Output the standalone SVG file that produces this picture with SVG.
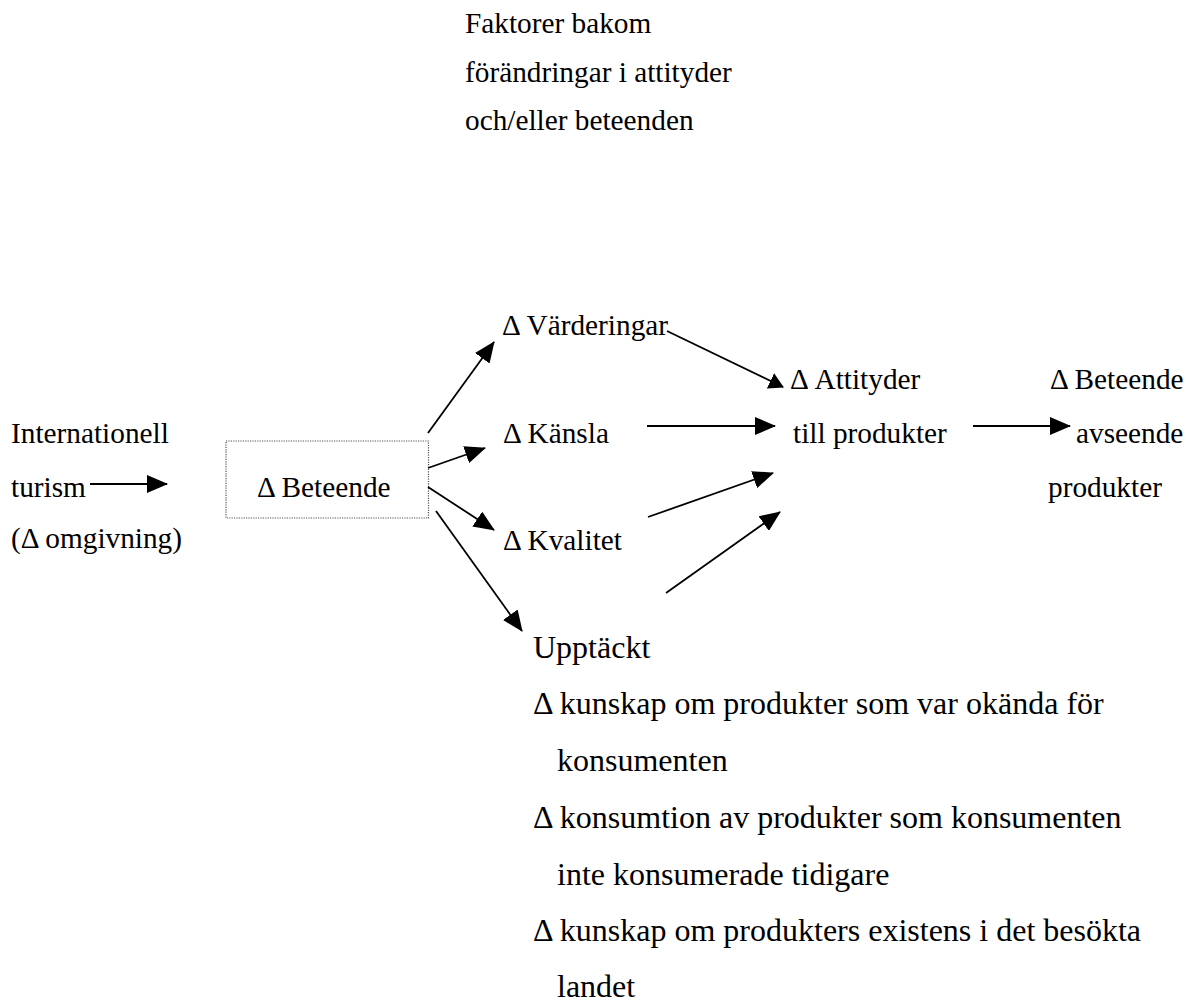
<svg xmlns="http://www.w3.org/2000/svg" width="1192" height="1002" viewBox="0 0 1192 1002">
<style>
text{fill:#000}
.m{font-size:29.3px}
.b{font-size:32px}
.c{stroke:#000;stroke-width:1.8;fill:none;marker-end:url(#ah)}
.h{stroke-width:2.2}
.s{marker-end:url(#ahs)}
.box{fill:none;stroke:#555;stroke-width:1.2;stroke-dasharray:1.2 1.2}
</style>
<defs>
<marker id="ah" viewBox="0 0 21 18" refX="20" refY="9" markerWidth="21" markerHeight="18" markerUnits="userSpaceOnUse" orient="auto">
<path d="M0,0 L21,9 L0,18 Z" fill="#000"/>
</marker>
<marker id="ahs" viewBox="0 0 15 17" refX="14" refY="8.5" markerWidth="15" markerHeight="17" markerUnits="userSpaceOnUse" orient="auto">
<path d="M0,0 L15,8.5 L0,17 Z" fill="#000"/>
</marker>
</defs>
<g font-family="Liberation Serif, Times New Roman, Tinos, DejaVu Serif, serif">
<g id="title">
<text class="m" x="465" y="33">Faktorer bakom</text>
<text class="m" x="465" y="82">förändringar i attityder</text>
<text class="m" x="465" y="130">och/eller beteenden</text>
</g>
<g id="n-turism">
<text class="m" x="11" y="443">Internationell</text>
<text class="m" x="11" y="497">turism</text>
<text class="m" x="11" y="548">(Δ omgivning)</text>
</g>
<g id="n-beteende">
<rect class="box" x="226" y="441" width="202.5" height="77"/>
<text class="m" x="257" y="497">Δ Beteende</text>
</g>
<g id="n-varderingar"><text class="m" x="502" y="335">Δ Värderingar</text></g>
<g id="n-kansla"><text class="m" x="503" y="443">Δ Känsla</text></g>
<g id="n-kvalitet"><text class="m" x="503" y="550">Δ Kvalitet</text></g>
<g id="n-attityder">
<text class="m" x="790" y="389">Δ Attityder</text>
<text class="m" x="793" y="443">till produkter</text>
</g>
<g id="n-beteende2">
<text class="m" x="1050" y="389">Δ Beteende</text>
<text class="m" x="1076" y="443">avseende</text>
<text class="m" x="1048" y="497">produkter</text>
</g>
<g id="n-upptackt">
<text class="b" x="533" y="658">Upptäckt</text>
<text class="b" x="533" y="714">Δ kunskap om produkter som var okända för</text>
<text class="b" x="557" y="771">konsumenten</text>
<text class="b" x="533" y="828">Δ konsumtion av produkter som konsumenten</text>
<text class="b" x="557" y="885">inte konsumerade tidigare</text>
<text class="b" x="533" y="941">Δ kunskap om produkters existens i det besökta</text>
<text class="b" x="557" y="997">landet</text>
</g>
</g>
<g id="connectors">
<line class="c h" x1="90" y1="484" x2="167" y2="484"/>
<line class="c" x1="428" y1="433" x2="494" y2="342"/>
<line class="c" x1="428" y1="468" x2="485" y2="448"/>
<line class="c" x1="428" y1="487" x2="494" y2="530"/>
<line class="c" x1="436" y1="511" x2="522" y2="631"/>
<line class="c s" x1="667" y1="331" x2="783" y2="387"/>
<line class="c h" x1="647" y1="426" x2="775" y2="426"/>
<line class="c" x1="648" y1="517" x2="773" y2="473"/>
<line class="c" x1="666" y1="593" x2="780" y2="512"/>
<line class="c h" x1="973" y1="426" x2="1070" y2="426"/>
</g>
</svg>
